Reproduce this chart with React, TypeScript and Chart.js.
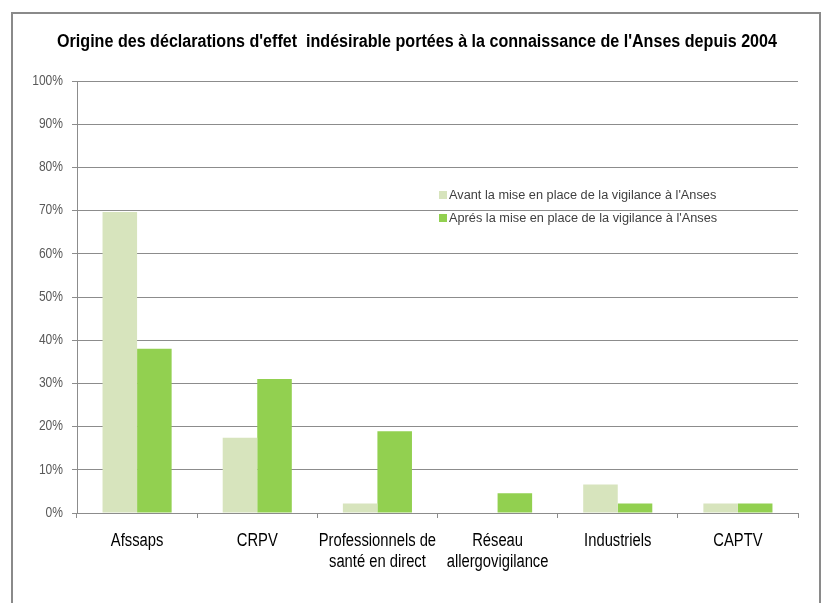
import React, { useEffect, useRef } from "react";
import { Chart, registerables } from "chart.js";

Chart.register(...registerables);

const categories: (string | string[])[] = [
  "Afssaps",
  "CRPV",
  ["Professionnels de", "santé en direct"],
  ["Réseau", "allergovigilance"],
  "Industriels",
  "CAPTV",
];
const avantValues = [69.7, 17.4, 2.2, 0, 6.6, 2.2];
const apresValues = [38, 31, 18.9, 4.6, 2.2, 2.2];
const seriesNames = [
  "Avant la mise en place de la vigilance à l'Anses",
  "Aprés la mise en place de la vigilance à l'Anses",
];
const titleText =
  "Origine des déclarations d'effet  indésirable portées à la connaissance de l'Anses depuis 2004";

const FONT = '"Liberation Sans", Arial, sans-serif';
const LIGHT = "#D7E4BD";
const DARK = "#92D050";
const GRID = "#8C8C8C";

// horizontal condensing per font size (emulates a narrow typeface)
const SCALE_BY_SIZE: Record<string, number> = {
  "17.5": 0.92,
  "18": 0.82,
  "14": 0.86,
  "12.5": 1.02,
};

export default function App() {
  const ref = useRef<HTMLCanvasElement | null>(null);
  useEffect(() => {
    const canvas = ref.current;
    if (!canvas) return;
    const c2d: any = canvas.getContext("2d");
    const orig = c2d.fillText;
    c2d.fillText = function (text: string, x: number, y: number, mw?: number) {
      const m = /(\d+(?:\.\d+)?)px/.exec(this.font);
      const sx = m ? SCALE_BY_SIZE[m[1]] ?? 1 : 1;
      if (sx === 1) {
        return mw === undefined ? orig.call(this, text, x, y) : orig.call(this, text, x, y, mw);
      }
      this.save();
      this.translate(x, y);
      this.scale(sx, 1);
      orig.call(this, text, 0, 0);
      this.restore();
    };

    const decor = {
      id: "decor",
      beforeDraw(chart: any) {
        const ctx = chart.ctx;
        ctx.save();
        ctx.fillStyle = "#ffffff";
        ctx.fillRect(0, 0, chart.width, chart.height);
        ctx.strokeStyle = "#8A8A8A";
        ctx.lineWidth = 2;
        ctx.beginPath();
        ctx.moveTo(12, 700);
        ctx.lineTo(12, 13);
        ctx.lineTo(820, 13);
        ctx.lineTo(820, 700);
        ctx.stroke();
        ctx.restore();
      },
      afterDraw(chart: any) {
        const ctx = chart.ctx;
        ctx.save();
        ctx.fillStyle = "#000000";
        ctx.font = `bold 17.5px ${FONT}`;
        ctx.textAlign = "center";
        ctx.textBaseline = "middle";
        ctx.fillText(titleText, 417, 42);
        const lx = 439;
        const ly = [195, 218];
        const colors = [LIGHT, DARK];
        ctx.font = `12.5px ${FONT}`;
        ctx.textAlign = "left";
        for (let i = 0; i < 2; i++) {
          ctx.fillStyle = colors[i];
          ctx.fillRect(lx, ly[i] - 4, 8, 8);
          ctx.fillStyle = "#404040";
          ctx.fillText(seriesNames[i], lx + 10, ly[i] + 1);
        }
        ctx.restore();
      },
    };
    const chart = new Chart(canvas, {
      type: "bar",
      data: {
        labels: categories,
        datasets: [
          { label: seriesNames[0], data: avantValues, backgroundColor: LIGHT, borderWidth: 0 },
          { label: seriesNames[1], data: apresValues, backgroundColor: DARK, borderWidth: 0 },
        ],
      },
      options: {
        responsive: false,
        animation: false,
        layout: { padding: { top: 81, right: 24, left: 0, bottom: 0 } },
        datasets: { bar: { categoryPercentage: 0.575, barPercentage: 1 } },
        plugins: { legend: { display: false }, title: { display: false }, tooltip: { enabled: false } },
        scales: {
          x: {
            offset: true,
            grid: { offset: true, drawOnChartArea: false, drawTicks: true, tickLength: 5, color: GRID },
            border: { display: true, color: GRID },
            ticks: {
              color: "#000000",
              font: { family: FONT, size: 18, lineHeight: 1.15 },
              padding: 13,
              maxRotation: 0,
              minRotation: 0,
              autoSkip: false,
            },
            afterFit(scale: any) {
              scale.height = 90;
            },
          },
          y: {
            min: 0,
            max: 100,
            grid: { color: GRID, tickLength: 5, drawTicks: true },
            border: { display: true, color: GRID },
            ticks: {
              stepSize: 10,
              color: "#595959",
              font: { family: FONT, size: 14 },
              padding: 9,
              callback: (v: any) => `${v}%`,
            },
            afterFit(scale: any) {
              scale.width = 77;
            },
          },
        },
      },
      plugins: [decor],
    } as any);
    return () => {
      chart.destroy();
      c2d.fillText = orig;
    };
  }, []);
  return (
    <div style={{ position: "fixed", left: 0, top: 0, width: 822, height: 603, background: "#fff" }}>
      <canvas ref={ref} width={822} height={603} />
    </div>
  );
}
